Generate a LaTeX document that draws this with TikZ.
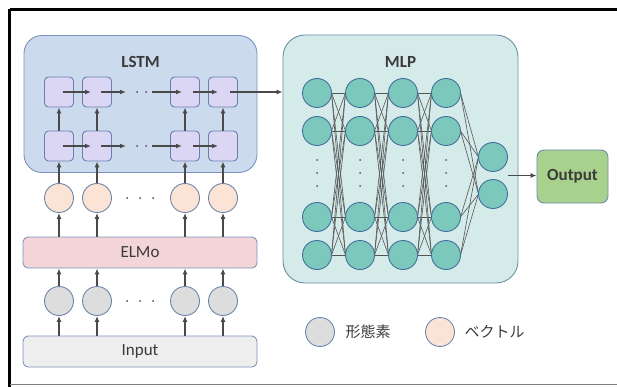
\documentclass[tikz,border=0pt]{standalone}
\usepackage{fontspec}
\setmainfont{Carlito}
\newfontfamily\jpfont{Noto Sans CJK JP}
\usetikzlibrary{arrows.meta,calc}
\definecolor{txt}{HTML}{3A3A3A}
\definecolor{arr}{HTML}{4A4A4A}
\definecolor{lstmfill}{HTML}{CCDAEE}
\definecolor{lstmdraw}{HTML}{7B93BA}
\definecolor{sqfill}{HTML}{DAD6F4}
\definecolor{sqdraw}{HTML}{6C80B0}
\definecolor{peach}{HTML}{FBE4D5}
\definecolor{cdraw}{HTML}{6E86AA}
\definecolor{elmofill}{HTML}{F3D4D7}
\definecolor{grayc}{HTML}{DDDDDD}
\definecolor{inputfill}{HTML}{EEEEEE}
\definecolor{mlpfill}{HTML}{D5EBE9}
\definecolor{mlpdraw}{HTML}{6C8FA8}
\definecolor{teal}{HTML}{7DC8BD}
\definecolor{tealdraw}{HTML}{41709C}
\definecolor{outfill}{HTML}{A9D18E}
\definecolor{edgec}{HTML}{555555}
\tikzset{
  lbl/.style={text=txt,font=\fontsize{17}{18}\selectfont},
  container/.style={draw=#1,line width=0.9pt,rounded corners=18pt},
  sq/.style={draw=sqdraw,fill=sqfill,line width=0.9pt,rounded corners=4pt,minimum width=29pt,minimum height=30pt,inner sep=0pt},
  vec/.style={circle,draw=cdraw,fill=peach,line width=0.9pt,minimum size=29pt,inner sep=0pt},
  morph/.style={circle,draw=cdraw,fill=grayc,line width=0.9pt,minimum size=29pt,inner sep=0pt},
  neuron/.style={circle,draw=tealdraw,fill=teal,line width=0.9pt,minimum size=29pt,inner sep=0pt},
  bar/.style={draw=lstmdraw,line width=0.9pt,rounded corners=5pt,minimum width=234pt,minimum height=31pt,inner sep=0pt},
  flow/.style={draw=arr,line width=1.2pt,-{Latex[length=6pt,width=5pt]}},
  dotc/.style={circle,fill=arr,minimum size=2pt,inner sep=0pt},
  mdot/.style={circle,fill=edgec,minimum size=2pt,inner sep=0pt},
  conn/.style={draw=edgec,line width=0.6pt},
}
\begin{document}
\begin{tikzpicture}[x=1pt,y=-1pt]
\useasboundingbox (0,0) rectangle (617,387);
% frame
\draw[black,line width=3pt] (9.5,9.5) -- (617,9.5);
\draw[black,line width=3pt] (9.5,9.5) -- (9.5,387);
\draw[gray,line width=1.5pt] (9.5,384.5) -- (617,384.5);

% LSTM container
\node[container=lstmdraw,fill=lstmfill,minimum width=233pt,minimum height=137pt,inner sep=0pt] (lstm) at (140.5,104) {};
\node[lbl,font=\fontsize{17}{18}\selectfont\bfseries] (lstmlbl) at (140.5,62) {LSTM};

\foreach \i/\x in {1/59,2/97,3/185,4/223}{
  \node[sq] (t\i) at (\x,92) {};
  \node[sq] (b\i) at (\x,146) {};
  \node[vec] (v\i) at (\x,198) {};
  \node[morph] (m\i) at (\x,301) {};
}
% ELMo and Input
\node[bar,fill=elmofill,lbl] (elmo) at (140,252.5) {ELMo};
\node[bar,fill=inputfill,lbl] (input) at (140,351.5) {Input};

% horizontal recurrences
\foreach \r/\y in {t/92,b/146}{
  \draw[flow] ([xshift=4pt]\r1.center) -- ([xshift=-6pt]\r2.center);
  \coordinate (\r e) at (126,\y);
  \coordinate (\r s) at (152,\y);
  \draw[flow] ([xshift=4pt]\r2.center) -- (\r e);
  \node[dotc] (\r d1) at (137,\y) {};
  \node[dotc] (\r d2) at (146,\y) {};
  \draw[flow] (\r s) -- ([xshift=-3pt]\r3.center);
  \draw[flow] ([xshift=8pt]\r3.center) -- ([xshift=-5pt]\r4.center);
}
% ellipsis in circle rows
\foreach \y/\n in {198/v,301/m}{
  \node[dotc] (\n e1) at (127,\y) {};
  \node[dotc] (\n e2) at (140,\y) {};
  \node[dotc] (\n e3) at (153,\y) {};
}
% vertical arrows
\foreach \i in {1,2,3,4}{
  \draw[flow] (b\i.north) -- (t\i.south);
  \draw[flow] (v\i.north) -- (b\i.south);
  \draw[flow] (elmo.north -| v\i) -- (v\i.south);
  \draw[flow] (m\i.north) -- (elmo.south -| m\i);
  \draw[flow] (input.north -| m\i) -- (m\i.south);
}

% MLP container
\node[container=mlpdraw,fill=mlpfill,rounded corners=22pt,minimum width=235pt,minimum height=248pt,inner sep=0pt] (mlp) at (400.5,159) {};
\node[lbl,font=\fontsize{17}{18}\selectfont\bfseries] (mlplbl) at (400.5,62) {MLP};

% LSTM -> MLP
\draw[flow] ([xshift=7pt]t4.center) -- (mlp.west |- t4.center);

% connections
\foreach \c/\n in {1/2,2/3,3/4}{
  \foreach \a/\ya in {1/93,2/131,3/217,4/255}{
    \foreach \b/\yb in {1/93,2/131,3/217,4/255}{
      \coordinate (tmpa) at ({317+(\c-1)*43+14.5},\ya);
      \coordinate (tmpb) at ({317+(\n-1)*43-14.5},\yb);
      \draw[conn] (tmpa) -- (tmpb);
    }
  }
}
\foreach \a/\ya in {1/93,2/131,3/217,4/255}{
  \foreach \yb in {157,194}{
    \draw[conn] (460.5,\ya) -- (478.5,\yb);
  }
}
% neurons
\foreach \c/\x in {1/317,2/360,3/403,4/446}{
  \foreach \r/\y in {1/93,2/131,3/217,4/255}{
    \node[neuron] (n\c\r) at (\x,\y) {};
  }
  \node[mdot] (d\c a) at (\x,160) {};
  \node[mdot] (d\c b) at (\x,173) {};
  \node[mdot] (d\c c) at (\x,186) {};
}
\node[neuron] (o1) at (493,157) {};
\node[neuron] (o2) at (493,194) {};

% Output
\node[draw=mlpdraw,fill=outfill,line width=0.9pt,rounded corners=7pt,minimum width=71pt,minimum height=53pt,inner sep=0pt,lbl,font=\fontsize{17}{18}\selectfont\bfseries] (out) at (572.5,176.5) {Output};
\coordinate (omid) at ($(o1.east)!0.5!(o2.east)$);
\draw[flow] (omid) -- (out.west |- omid);

% legend
\node[morph] (lg1) at (320,332) {};
\node[lbl,anchor=west,font=\jpfont\fontsize{15}{16}\selectfont] (lg1t) at (342,332) {形態素};
\node[vec] (lg2) at (440,332) {};
\node[lbl,anchor=west,font=\jpfont\fontsize{15}{16}\selectfont] (lg2t) at (461,332) {ベクトル};
\end{tikzpicture}
\end{document}
